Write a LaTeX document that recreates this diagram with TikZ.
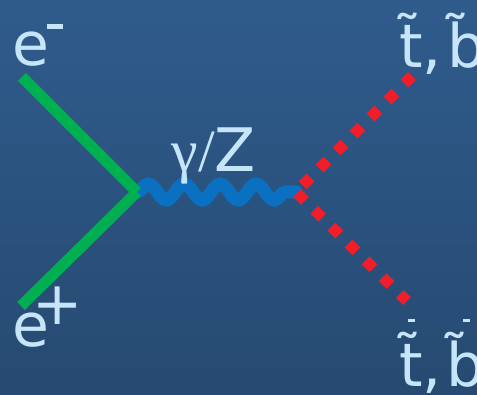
\documentclass[tikz,border=0pt]{standalone}
\usepackage{fontspec}
\setmainfont{DejaVu Sans}
\newfontfamily\greekfont{Liberation Serif}
\usetikzlibrary{decorations.pathmorphing}
\definecolor{bgtop}{HTML}{2F5B8C}
\definecolor{bgbot}{HTML}{264A71}
\definecolor{txt}{HTML}{C6E5F9}
\definecolor{fermion}{HTML}{00B050}
\definecolor{boson}{HTML}{0A70C2}
\definecolor{sfermion}{HTML}{F01E28}
% bar stacked over a tilde-letter
\newcommand{\antisq}[1]{\setbox0=\hbox{#1}\rlap{\hbox to\wd0{\hss\kern1.5pt\raisebox{65pt}{\rule{7pt}{3pt}}\hss}}\box0}

\begin{document}
\begin{tikzpicture}[
  x=1pt, y=-1pt,
  lbl/.style={text=txt, font=\fontsize{60}{64}\selectfont, inner sep=0pt},
  ferm/.style={draw=fermion, line width=11pt},
  phot/.style={draw=boson, line width=13pt, line cap=round, decorate,
    decoration={snake, segment length=36pt, amplitude=8pt}},
  scal/.style={draw=sfermion, line width=11pt, dash pattern=on 11pt off 13pt}
]
% background
\shade[top color=bgtop, bottom color=bgbot] (0,0) rectangle (477,395);
\useasboundingbox (0,0) rectangle (477,395);

% vertices and external legs
\coordinate (v1) at (137,192);
\coordinate (v2) at (296,192);
\coordinate (em) at (22,77);
\coordinate (ep) at (21,306);
\coordinate (sq) at (412,76);
\coordinate (aq) at (407,301);

% lines
\draw[phot] (v1) -- (v2);
\draw[ferm] (em) -- (v1);
\draw[ferm] (ep) -- (v1);
\draw[scal, dash phase=14.6pt] (v2) -- (sq);
\draw[scal, dash phase=22.4pt] (v2) -- (aq);

% labels
\node[lbl, anchor=base west] (lem) at (12,66) {e\kern-2pt\raisebox{37pt}{\rule{16pt}{4.5pt}}};
\node[lbl, anchor=base west] (lep) at (12,347) {e\kern-17pt\raisebox{22pt}{+}};
\node[lbl, anchor=base east] (lgz) at (256,172) {{\greekfont γ/}Z};
\node[lbl, anchor=base west] (lsq) at (399,68) {t^^^^0303,\kern6pt b^^^^0303};
\node[lbl, anchor=base west] (laq) at (399,387) {\antisq{t^^^^0303},\kern5pt\antisq{b^^^^0303}};
\end{tikzpicture}
\end{document}
